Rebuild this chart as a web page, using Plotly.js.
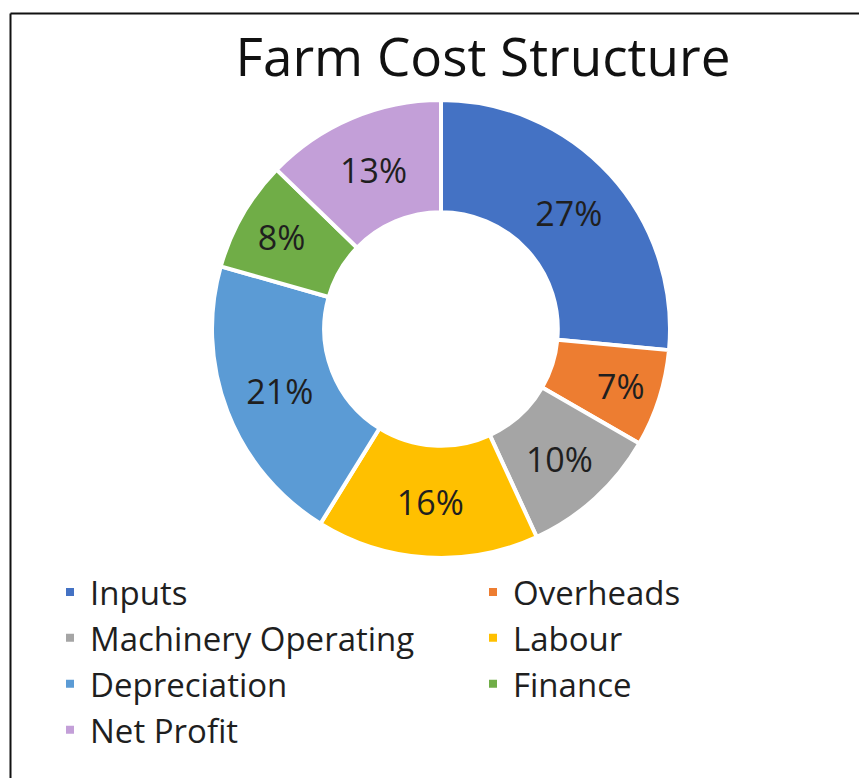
<!DOCTYPE html>
<html>
<head>
<meta charset="utf-8">
<script src="https://cdn.plot.ly/plotly-3.0.1.min.js"></script>
<style>
  html, body { margin: 0; padding: 0; background: #ffffff; overflow: hidden; }
  #chart { width: 940px; height: 778px; }
</style>
</head>
<body>
<div id="chart"></div>
<script>
const categories = ["Inputs", "Overheads", "Machinery Operating", "Labour", "Depreciation", "Finance", "Net Profit"];
const percentValues = [27, 7, 10, 16, 21, 8, 13];
const sliceColors = ["#4472C4", "#ED7D31", "#A5A5A5", "#FFC000", "#5B9BD5", "#70AD47", "#C39FD8"];
const chartTitle = "Farm Cost Structure";

// canvas is slightly wider than the 859px viewport so the two-column legend is not pushed left
const W = 940, H = 778;
const cx = 441, cy = 329, R = 229;

const trace = {
  type: "pie",
  labels: categories,
  values: percentValues,
  sort: false,
  direction: "clockwise",
  rotation: 0,
  hole: 0.51,
  marker: { colors: sliceColors, line: { color: "#ffffff", width: 4 } },
  texttemplate: "%{value}%",
  textposition: "inside",
  insidetextorientation: "horizontal",
  textfont: { family: "Open Sans, sans-serif", size: 34, color: "#1f1f1f" },
  hoverinfo: "label+value",
  domain: {
    x: [(cx - R) / W, (cx + R) / W],
    y: [1 - (cy + R) / H, 1 - (cy - R) / H]
  }
};

const layout = {
  width: W,
  height: H,
  margin: { l: 0, r: 0, t: 0, b: 0 },
  paper_bgcolor: "#ffffff",
  plot_bgcolor: "#ffffff",
  title: {
    text: chartTitle,
    font: { family: "Open Sans, sans-serif", size: 53, color: "#111111" },
    x: 483 / W,
    xanchor: "center",
    xref: "paper",
    y: 1 - 57 / H,
    yanchor: "middle",
    yref: "paper"
  },
  showlegend: true,
  legend: {
    orientation: "h",
    x: 50 / W,
    xanchor: "left",
    y: 1 - 564 / H,
    yanchor: "top",
    entrywidth: 378,
    entrywidthmode: "pixels",
    traceorder: "normal",
    font: { family: "Open Sans, sans-serif", size: 33, color: "#1f1f1f" },
    bgcolor: "rgba(0,0,0,0)"
  },
  shapes: [
    { type: "line", xref: "paper", yref: "paper", x0: 10.5 / W, x1: 1.01, y0: 1 - 13.5 / H, y1: 1 - 13.5 / H, line: { color: "#111111", width: 2 } },
    { type: "line", xref: "paper", yref: "paper", x0: 10.5 / W, x1: 10.5 / W, y0: 1 - 13.5 / H, y1: -0.01, line: { color: "#111111", width: 2 } }
  ]
};

Plotly.newPlot("chart", [trace], layout, { displayModeBar: false, staticPlot: true });
</script>
</body>
</html>
